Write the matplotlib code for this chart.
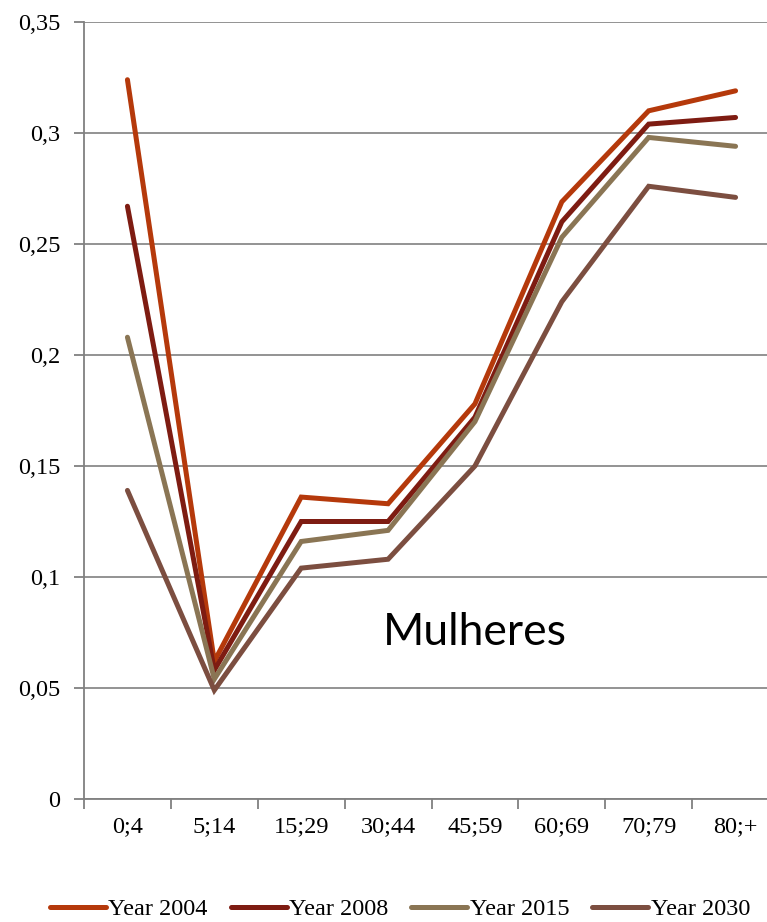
import matplotlib.pyplot as plt

age_groups = ["0;4", "5;14", "15;29", "30;44", "45;59", "60;69", "70;79", "80;+"]
year_2004 = [0.324, 0.062, 0.136, 0.133, 0.178, 0.269, 0.310, 0.319]
year_2008 = [0.267, 0.058, 0.125, 0.125, 0.172, 0.260, 0.304, 0.307]
year_2015 = [0.208, 0.054, 0.116, 0.121, 0.170, 0.253, 0.298, 0.294]
year_2030 = [0.139, 0.049, 0.104, 0.108, 0.150, 0.224, 0.276, 0.271]
y_ticks = [0, 0.05, 0.1, 0.15, 0.2, 0.25, 0.3, 0.35]
y_labels = ["0", "0,05", "0,1", "0,15", "0,2", "0,25", "0,3", "0,35"]

series = [
    ("Year 2004", year_2004, "#B5390B"),
    ("Year 2008", year_2008, "#7E1C12"),
    ("Year 2015", year_2015, "#8A7554"),
    ("Year 2030", year_2030, "#7C4E40"),
]

plt.rcParams["font.family"] = ["Liberation Serif", "DejaVu Serif"]

fig = plt.figure(figsize=(7.67, 9.22), dpi=100)
ax = fig.add_axes([84 / 767, 123 / 922, 695 / 767, 777 / 922])

x = list(range(len(age_groups)))
for name, vals, color in series:
    ax.plot(x, vals, color=color, lw=3.6, solid_capstyle="round",
            solid_joinstyle="miter", label=name, zorder=3)

ax.set_xlim(-0.5, len(age_groups) - 0.5)
ax.set_ylim(0, 0.35)
ax.set_yticks(y_ticks)
ax.set_yticklabels(y_labels)
ax.yaxis.grid(True, color="#8a8a8a", lw=1.3)
ax.set_axisbelow(True)

ax.set_xticks([i - 0.5 for i in x] + [len(age_groups) - 0.5])
ax.set_xticklabels([])
ax.set_xticks(x, minor=True)
ax.set_xticklabels(age_groups, minor=True)
ax.tick_params(axis="x", which="minor", length=0, pad=12, labelsize=17.5)
ax.tick_params(axis="x", which="major", length=7, width=1.3, color="#808080")
ax.tick_params(axis="y", length=7, width=1.3, color="#808080", pad=10, labelsize=17.5)

for s in ["top", "right"]:
    ax.spines[s].set_visible(False)
for s in ["left", "bottom"]:
    ax.spines[s].set_color("#808080")
    ax.spines[s].set_linewidth(1.3)

ax.text(4.0, 0.075, "Mulheres", fontsize=32, family=["Lato", "DejaVu Sans"],
        ha="center", va="center")

ax.legend(loc="center", bbox_to_anchor=(316 / 695, -110 / 777), ncol=4,
          frameon=False, fontsize=17.5, handlelength=2.3, handletextpad=0.1,
          columnspacing=0.95)

plt.savefig("out.png", dpi=100)
